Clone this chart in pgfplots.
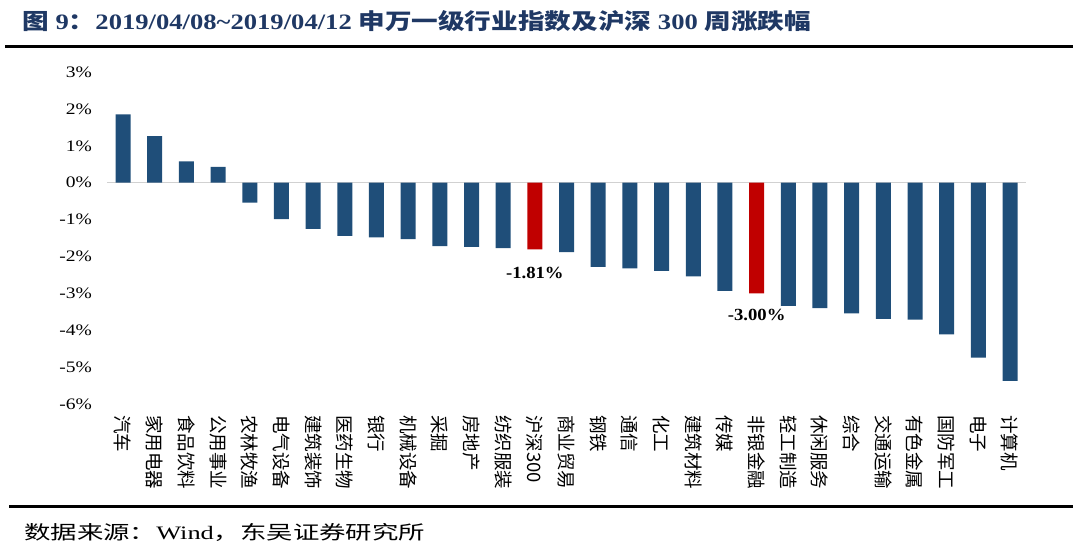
\documentclass[border=0pt]{standalone}
\usepackage{fontspec}
\setmainfont{Liberation Serif}
\newfontfamily\cjk{Noto Sans CJK SC}
\usepackage{pgfplots}
\usepackage{pgfplotstable}
\pgfplotsset{compat=1.18}
\definecolor{barblue}{RGB}{31,78,121}
\definecolor{barred}{RGB}{192,0,0}
\definecolor{titleblue}{RGB}{31,56,100}
\pgfplotstableread{
x y
0 1.85
1 1.26
2 0.58
3 0.43
4 -0.54
5 -0.99
6 -1.25
7 -1.44
8 -1.48
9 -1.53
10 -1.72
11 -1.74
12 -1.77
14 -1.88
15 -2.28
16 -2.32
17 -2.39
18 -2.54
19 -2.93
21 -3.34
22 -3.40
23 -3.54
24 -3.69
25 -3.71
26 -4.11
27 -4.74
28 -5.37
}\bluedata
\pgfplotstableread{
x y
13 -1.81
20 -3.00
}\reddata
\begin{document}
\begin{tikzpicture}
\path[use as bounding box] (0pt,0pt) rectangle (1080pt,-554pt);
\draw[line width=3pt] (5pt,-46pt) -- (1073pt,-46pt);
\draw[line width=3pt] (9pt,-506pt) -- (1073pt,-506pt);
\node[anchor=west, text=titleblue, font=\bfseries\fontsize{22}{22}\selectfont, inner sep=0pt, xscale=1.21] at (22pt,-21pt)
  {{\cjk 图} 9{\cjk ：}2019/04/08\textasciitilde 2019/04/12 {\cjk 申万一级行业指数及沪深} 300 {\cjk 周涨跌幅}};
\node[anchor=west, font=\fontsize{19}{19}\selectfont, inner sep=0pt, xscale=1.39] at (24pt,-532pt)
  {{\cjk 数据来源：}Wind{\cjk ，东吴证券研究所}};
\begin{axis}[
  at={(107.2pt,-404.1pt)}, anchor=south west,
  scale only axis, width=918.7pt, height=332.1pt,
  xmin=-0.5, xmax=28.5, ymin=-6, ymax=3,
  axis line style={draw=none},
  major tick length=0pt,
  ytick={-6,-5,-4,-3,-2,-1,0,1,2,3},
  yticklabels={-6\%,-5\%,-4\%,-3\%,-2\%,-1\%,0\%,1\%,2\%,3\%},
  yticklabel style={font=\fontsize{16}{16}\selectfont, inner sep=0pt, xshift=-15pt, xscale=1.22},
  xtick={0,...,28},
  xticklabels={汽车,家用电器,食品饮料,公用事业,农林牧渔,电气设备,建筑装饰,医药生物,银行,机械设备,采掘,房地产,纺织服装,沪深300,商业贸易,钢铁,通信,化工,建筑材料,传媒,非银金融,轻工制造,休闲服务,综合,交通运输,有色金属,国防军工,电子,计算机},
  xticklabel style={font=\cjk\fontsize{18.5}{18.5}\selectfont, yshift=-11pt, rotate=-90, anchor=west, inner sep=0pt},
  clip=false,
]
\draw[color=black!18, line width=1.3pt] (axis cs:-0.5,0) -- (axis cs:28.5,0);
\addplot[ybar, bar width=15pt, bar shift=0pt, fill=barblue, draw=none] table[x=x,y=y] {\bluedata};
\addplot[ybar, bar width=15pt, bar shift=0pt, fill=barred, draw=none] table[x=x,y=y] {\reddata};
\node[font=\bfseries\fontsize{17}{17}\selectfont, yshift=-23pt, xscale=1.1] at (axis cs:13,-1.81) {-1.81\%};
\node[font=\bfseries\fontsize{17}{17}\selectfont, yshift=-22pt, xscale=1.1] at (axis cs:20,-3.00) {-3.00\%};
\end{axis}
\end{tikzpicture}
\end{document}
